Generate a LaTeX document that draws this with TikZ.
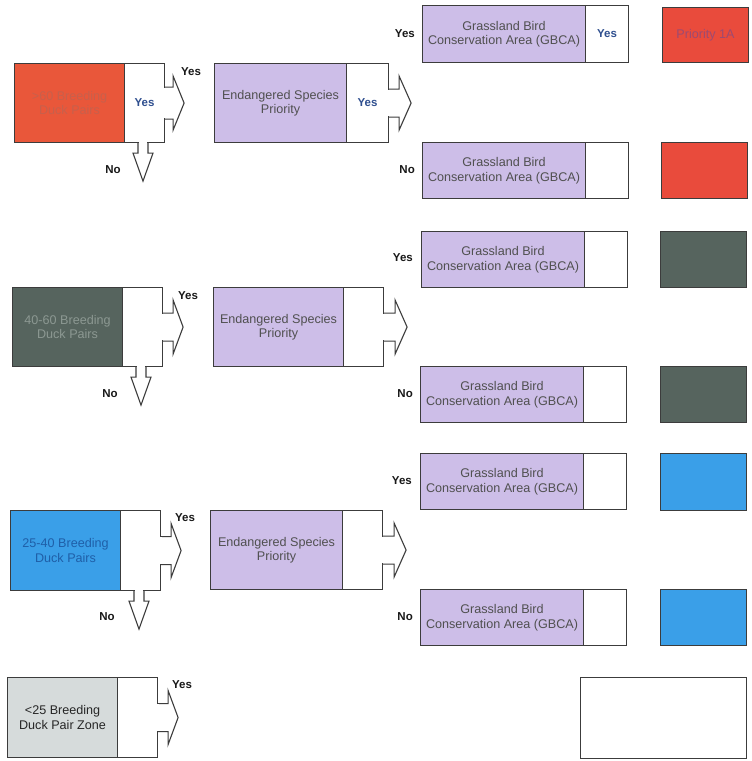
\documentclass[tikz,border=0pt]{standalone}
\usepackage{fontspec}
\setmainfont{Liberation Sans}
\usetikzlibrary{calc}
\definecolor{bordc}{HTML}{3C3C3C}
\definecolor{orangeF}{HTML}{E9573A}
\definecolor{orangeT}{HTML}{C7604C}
\definecolor{redF}{HTML}{E94B3C}
\definecolor{redT}{HTML}{9C4A72}
\definecolor{dgrayF}{HTML}{56645E}
\definecolor{dgrayT}{HTML}{8C9892}
\definecolor{blueF}{HTML}{3A9FE8}
\definecolor{blueT}{HTML}{1F5FA8}
\definecolor{lgrayF}{HTML}{D6DBDB}
\definecolor{purpF}{HTML}{CDBEE8}
\definecolor{purpT}{HTML}{505050}
\definecolor{yesT}{HTML}{2F4F8F}
\tikzset{
  box/.style={draw=bordc, line width=1.1pt, anchor=north west, inner sep=0pt,
    align=center, font=\fontsize{12.6}{14.5}\selectfont},
  cbox/.style={box, minimum width=110pt, minimum height=79pt},
  wbox/.style={box, fill=white, minimum width=40pt, minimum height=79pt},
  ebox/.style={box, fill=purpF, text=purpT, minimum width=132pt, minimum height=79pt},
  gbox/.style={box, fill=purpF, text=purpT, minimum width=163pt, minimum height=56pt},
  gwbox/.style={box, fill=white, minimum width=43pt, minimum height=56pt},
  pbox/.style={box, minimum width=86pt, minimum height=56pt},
  lbl/.style={font=\fontsize{11.5}{13}\selectfont\bfseries, text=black!90, inner sep=0pt},
  yestxt/.style={font=\fontsize{11.5}{13}\selectfont\bfseries, text=yesT},
  blockarrow/.style={fill=white, draw=bordc, line width=1.1pt, line join=miter}
}
\newcommand{\rightarrowblock}[4]{% node, shaft half, shaft len, head len
  \path[blockarrow] ($(#1.east)+(0,-#2)$) -- ++(#3,0) -- ++(0,{-(27-#2)}) -- ++(#4,27) -- ++(-#4,27) -- ++(0,{-(27-#2)}) -- ++(-#3,0);
  \fill[white] ($(#1.east)+(-0.9,{-#2+0.6})$) rectangle ($(#1.east)+(0.9,{#2-0.6})$);
}
\newcommand{\downarrowblock}[1]{%
  \coordinate (#1-d) at ($(#1.south west)+(19,0)$);
  \path[blockarrow] ($(#1-d)+(-5,0)$) -- ++(0,10) -- ++(-5,0) -- ++(10,28) -- ++(10,-28) -- ++(-5,0) -- ++(0,-10);
  \fill[white] ($(#1-d)+(-4.4,-0.9)$) rectangle ($(#1-d)+(4.4,0.9)$);
}
\begin{document}
\begin{tikzpicture}[x=1pt,y=-1pt]
\useasboundingbox[fill=white] (0,0) rectangle (752,761);

% ---------- left column ----------
\node[cbox, fill=orangeF, text=orangeT] (a1) at (14,63) {>60 Breeding\\Duck Pairs};
\node[wbox] (a1w) at (124,63) {};
\node[yestxt] at (a1w.center) {Yes};
\rightarrowblock{a1w}{16}{8}{11}
\downarrowblock{a1w}
\node[lbl, anchor=west] (ya1) at (181,72) {Yes};
\node[lbl] (na1) at (113,170) {No};

\node[cbox, fill=dgrayF, text=dgrayT] (a2) at (12,287) {40-60 Breeding\\Duck Pairs};
\node[wbox] (a2w) at (122,287) {};
\rightarrowblock{a2w}{14}{10}{10}
\downarrowblock{a2w}
\node[lbl, anchor=west] (ya2) at (178,296) {Yes};
\node[lbl] (na2) at (110,394) {No};

\node[cbox, fill=blueF, text=blueT, minimum height=80pt] (a3) at (10,510) {25-40 Breeding\\Duck Pairs};
\node[wbox, minimum height=80pt] (a3w) at (120,510) {};
\rightarrowblock{a3w}{14}{10}{10}
\downarrowblock{a3w}
\node[lbl, anchor=west] (ya3) at (175,518) {Yes};
\node[lbl] (na3) at (107,617) {No};

\node[cbox, fill=lgrayF, text=black!85, minimum height=80pt] (a4) at (7,677) {<25 Breeding\\Duck Pair Zone};
\node[wbox, minimum height=80pt] (a4w) at (117,677) {};
\rightarrowblock{a4w}{14}{10}{10}
\node[lbl, anchor=west] (ya4) at (172,685) {Yes};

% ---------- endangered species column ----------
\node[ebox] (e1) at (214,63) {Endangered Species\\Priority};
\node[wbox, minimum width=42pt] (e1w) at (346,63) {};
\node[yestxt] at (e1w.center) {Yes};
\rightarrowblock{e1w}{14}{10}{12}

\node[ebox, minimum width=130pt] (e2) at (213,287) {Endangered Species\\Priority};
\node[wbox] (e2w) at (343,287) {};
\rightarrowblock{e2w}{14}{11}{12}

\node[ebox, minimum height=79pt] (e3) at (210,510) {Endangered Species\\Priority};
\node[wbox] (e3w) at (342,510) {};
\rightarrowblock{e3w}{14}{11}{12}

% ---------- GBCA column ----------
\node[gbox, minimum height=57pt] (g1) at (422,5) {Grassland Bird\\Conservation Area (GBCA)};
\node[gwbox, minimum height=57pt] (g1w) at (585,5) {};
\node[yestxt] at (g1w.center) {Yes};
\node[lbl, anchor=east] (yg1) at (415,34) {Yes};

\node[gbox] (g2) at (422,142) {Grassland Bird\\Conservation Area (GBCA)};
\node[gwbox] (g2w) at (585,142) {};
\node[lbl, anchor=east] (ng2) at (415,170) {No};

\node[gbox] (g3) at (421,231) {Grassland Bird\\Conservation Area (GBCA)};
\node[gwbox] (g3w) at (584,231) {};
\node[lbl, anchor=east] (yg3) at (413,258) {Yes};

\node[gbox] (g4) at (420,366) {Grassland Bird\\Conservation Area (GBCA)};
\node[gwbox] (g4w) at (583,366) {};
\node[lbl, anchor=east] (ng4) at (413,394) {No};

\node[gbox] (g5) at (420,453) {Grassland Bird\\Conservation Area (GBCA)};
\node[gwbox] (g5w) at (583,453) {};
\node[lbl, anchor=east] (yg5) at (412,481) {Yes};

\node[gbox] (g6) at (420,589) {Grassland Bird\\Conservation Area (GBCA)};
\node[gwbox] (g6w) at (583,589) {};
\node[lbl, anchor=east] (ng6) at (413,617) {No};

% ---------- priority column ----------
\node[pbox, fill=redF, text=redT, minimum height=55pt] (p1) at (662,7) {Priority 1A};
\node[pbox, fill=redF] (p2) at (661,142) {};
\node[pbox, fill=dgrayF] (p3) at (660,231) {};
\node[pbox, fill=dgrayF] (p4) at (660,366) {};
\node[pbox, fill=blueF, minimum height=57pt] (p5) at (660,453) {};
\node[pbox, fill=blueF] (p6) at (660,589) {};
\node[pbox, fill=white, minimum width=166pt, minimum height=81pt] (p7) at (580,677) {};
\end{tikzpicture}
\end{document}
